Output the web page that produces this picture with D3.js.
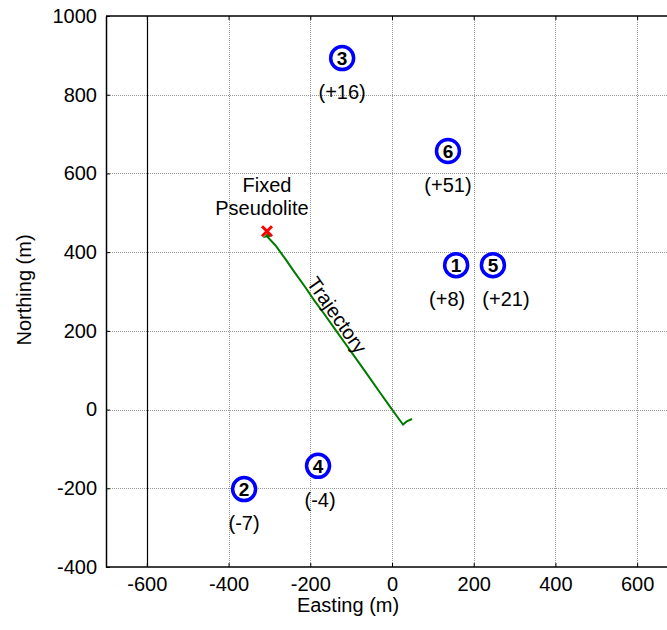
<!DOCTYPE html>
<html>
<head>
<meta charset="utf-8">
<script src="https://cdn.jsdelivr.net/npm/d3@7"></script>
<style>
  body { margin: 0; background: #fff; }
  text { font-family: "Liberation Sans", Arial, sans-serif; fill: #000; }
</style>
</head>
<body>
<svg id="chart" width="667" height="630"></svg>
<script>
// Data
var xTicks = [-600, -400, -200, 0, 200, 400, 600];
var yTicks = [-400, -200, 0, 200, 400, 600, 800, 1000];

var sats = ["1", "2", "3", "4", "5", "6"];
var satEasting = [157, -362, -122, -181, 247, 137];
var satNorthing = [367, -202, 893, -143, 367, 657];
var satDelta = ["(+8)", "(-7)", "(+16)", "(-4)", "(+21)", "(+51)"];
var deltaEasting = [135, -362, -122, -176, 279, 137];

var pseudoliteE = -306, pseudoliteN = 453;

var trajE = [-303, -309, -298, -304, -285, -262, -240, -213, -190, -168, -140, -118, -98, -78, -55, -30, -8, 12, 27, 36, 49];
var trajN = [447, 440, 443, 438, 417, 384, 351, 312, 277, 246, 205, 173, 144, 115, 81, 44, 12, -17, -38, -30, -24];

var refLineE = -600;

//Draw
var svg = d3.select("#chart");
var x = d3.scaleLinear().domain([-700, 700]).range([106, 678]);
var y = d3.scaleLinear().domain([-400, 1000]).range([567, 16]);
var fmt = function(d) { return String(d); };

// Grid
var grid = svg.append("g").attr("class", "grid");
grid.selectAll("line.gx").data(xTicks.filter(function(d) { return d !== refLineE; }))
  .enter().append("line").attr("class", "gx")
  .attr("x1", function(d) { return Math.round(x(d)) + 0.5; }).attr("x2", function(d) { return Math.round(x(d)) + 0.5; })
  .attr("y1", y(1000)).attr("y2", y(-400));
grid.selectAll("line.gy").data(yTicks.filter(function(d) { return d > -400 && d < 1000; }))
  .enter().append("line").attr("class", "gy")
  .attr("y1", function(d) { return Math.round(y(d)) + 0.5; }).attr("y2", function(d) { return Math.round(y(d)) + 0.5; })
  .attr("x1", x(-700)).attr("x2", 667);
grid.selectAll("line")
  .attr("stroke", "#999").attr("stroke-width", 1).attr("stroke-dasharray", "1,1");

// solid reference line
svg.append("line")
  .attr("x1", Math.round(x(refLineE)) + 0.5).attr("x2", Math.round(x(refLineE)) + 0.5)
  .attr("y1", y(1000)).attr("y2", y(-400))
  .attr("stroke", "#000").attr("stroke-width", 1.2);

// Axes
var axB = svg.append("g").attr("transform", "translate(0," + y(-400) + ")")
  .call(d3.axisBottom(x).tickValues(xTicks).tickFormat(fmt).tickSizeInner(-4).tickSizeOuter(0).tickPadding(10));
var axT = svg.append("g").attr("transform", "translate(0," + y(1000) + ")")
  .call(d3.axisTop(x).tickValues(xTicks).tickSizeInner(-4).tickSizeOuter(0).tickFormat(""));
var axL = svg.append("g").attr("transform", "translate(" + x(-700) + ",0)")
  .call(d3.axisLeft(y).tickValues(yTicks).tickFormat(fmt).tickSizeInner(-4).tickSizeOuter(0).tickPadding(9));
[axB, axT, axL].forEach(function(a) {
  a.select(".domain").attr("stroke", "#000").attr("stroke-width", 1.5);
  a.selectAll("line").attr("stroke", "#000");
  a.selectAll("text").style("font-size", "20px").attr("fill", "#000");
});
axB.select(".domain").attr("d", "M" + x(-700) + ",0H667");
axT.select(".domain").attr("d", "M" + x(-700) + ",0H667");

// Axis labels
svg.append("text").attr("x", 348).attr("y", 612).attr("text-anchor", "middle")
  .style("font-size", "20px").text("Easting (m)");
svg.append("text").attr("transform", "translate(31,290) rotate(-90)").attr("text-anchor", "middle")
  .style("font-size", "20px").text("Northing (m)");

// Trajectory
var traj = trajE.map(function(e, i) { return [x(e), y(trajN[i])]; });
svg.append("path").attr("d", d3.line()(traj))
  .attr("fill", "none").attr("stroke", "#007a00").attr("stroke-width", 2);
svg.append("text")
  .attr("transform", "translate(337,315) rotate(55)")
  .attr("text-anchor", "middle").attr("dy", "0.35em")
  .style("font-size", "20px").text("Trajectory");

// Pseudolite
var px = x(pseudoliteE), py = y(pseudoliteN);
svg.append("path")
  .attr("d", "M" + (px - 5) + "," + (py - 5) + "L" + (px + 5) + "," + (py + 5) + "M" + (px + 5) + "," + (py - 5) + "L" + (px - 5) + "," + (py + 5))
  .attr("stroke", "#ff0000").attr("stroke-width", 3);
svg.append("text").attr("x", px).attr("y", py - 39).attr("text-anchor", "middle")
  .style("font-size", "20px").text("Fixed");
svg.append("text").attr("x", px - 5).attr("y", py - 16).attr("text-anchor", "middle")
  .style("font-size", "20px").text("Pseudolite");

// Satellites
var sat = svg.selectAll("g.sat").data(sats).enter().append("g").attr("class", "sat");
sat.append("circle")
  .attr("cx", function(d, i) { return x(satEasting[i]); })
  .attr("cy", function(d, i) { return y(satNorthing[i]); })
  .attr("r", 11.5).attr("fill", "#fff").attr("stroke", "#0000ff").attr("stroke-width", 3.5);
sat.append("text")
  .attr("x", function(d, i) { return x(satEasting[i]); })
  .attr("y", function(d, i) { return y(satNorthing[i]); })
  .attr("dy", "0.36em").attr("text-anchor", "middle")
  .style("font-size", "19px").style("font-weight", "bold").text(function(d) { return d; });
sat.append("text")
  .attr("x", function(d, i) { return x(deltaEasting[i]); })
  .attr("y", function(d, i) { return y(satNorthing[i]) + 34; })
  .attr("dy", "0.35em").attr("text-anchor", "middle")
  .style("font-size", "20px").text(function(d, i) { return satDelta[i]; });
</script>
</body>
</html>
